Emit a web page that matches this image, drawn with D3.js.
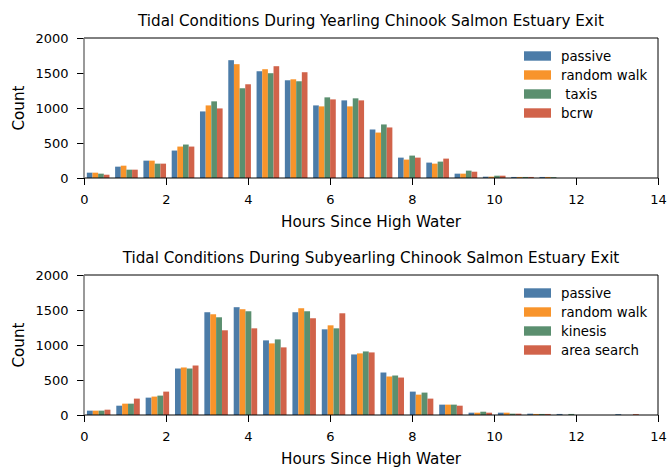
<!DOCTYPE html>
<html>
<head>
<meta charset="utf-8">
<script src="https://cdn.jsdelivr.net/npm/d3@7"></script>
<style>
  body { margin: 0; background: #fff; }
  svg text { font-family: "DejaVu Sans", sans-serif; fill: #000; }
</style>
</head>
<body>
<div id="chart"></div>
<script>
// histogram bin widths (hours), bins start at 0
const binWidthYearling = 0.69;
const binWidthSub = 0.716;

const yearlingLabels = ["passive", "random walk", " taxis", "bcrw"];
const subLabels = ["passive", "random walk", "kinesis", "area search"];

const colors = ["#4c7ca8", "#f8942b", "#5b8f6f", "#d1634a"];

// counts per bin, yearling
const yearlingPassive = [76, 162, 248, 392, 951, 1683, 1525, 1396, 1037, 1109, 693, 291, 220, 62, 19, 15, 15, 0, 0, 0];
const yearlingRandom  = [76, 176, 248, 449, 1037, 1626, 1554, 1410, 1023, 1023, 649, 263, 205, 62, 19, 15, 15, 0, 0, 0];
const yearlingTaxis   = [62, 119, 205, 478, 1095, 1282, 1497, 1382, 1152, 1138, 765, 320, 234, 105, 33, 15, 12, 0, 0, 0];
const yearlingBcrw    = [47, 119, 205, 449, 994, 1339, 1597, 1511, 1123, 1109, 722, 291, 277, 90, 33, 15, 0, 0, 0, 0];

// counts per bin, subyearling
const subPassive = [62, 133, 248, 664, 1468, 1540, 1066, 1468, 1224, 865, 607, 334, 148, 33, 33, 19, 15, 0, 12, 0];
const subRandom  = [62, 162, 263, 679, 1439, 1511, 1023, 1525, 1281, 880, 550, 291, 148, 33, 33, 15, 0, 0, 0, 0];
const subKinesis = [62, 162, 277, 664, 1396, 1482, 1080, 1482, 1238, 908, 564, 320, 148, 47, 19, 15, 15, 0, 0, 0];
const subArea    = [76, 234, 334, 707, 1210, 1238, 966, 1382, 1453, 894, 535, 234, 133, 33, 19, 15, 0, 0, 12, 0];

const xTicks = [0, 2, 4, 6, 8, 10, 12, 14];
const yTicks = [0, 500, 1000, 1500, 2000];

const width = 668, height = 468;

const svg = d3.select("#chart").append("svg")
    .attr("width", width)
    .attr("height", height);

function drawPanel(top, title, labels, series, binWidth, id) {
    const left = 84, right = 658, bottom = top + 140;

    const x = d3.scaleLinear().domain([0, 14]).range([left, right]);
    const y = d3.scaleLinear().domain([0, 2000]).range([bottom, top]);

    const g = svg.append("g");

    g.append("clipPath").attr("id", id)
        .append("rect")
        .attr("x", left).attr("y", top)
        .attr("width", right - left).attr("height", bottom - top);

    const bars = g.append("g").attr("clip-path", `url(#${id})`);
    const n = series.length;
    const barW = 0.8 * binWidth / n;

    series.forEach((vals, j) => {
        bars.append("g")
            .selectAll("rect")
            .data(vals)
            .join("rect")
            .attr("x", (d, i) => x(i * binWidth + 0.1 * binWidth + j * barW))
            .attr("width", x(barW) - x(0))
            .attr("y", d => y(d))
            .attr("height", d => y(0) - y(d))
            .attr("fill", colors[j]);
    });

    // x axis
    const xAxis = g.append("g")
        .attr("transform", `translate(0,${bottom})`)
        .call(d3.axisBottom(x).tickValues(xTicks).tickSize(7).tickPadding(10).tickFormat(d3.format("d")));
    xAxis.select(".domain").remove();
    xAxis.selectAll("text").attr("font-size", 13);

    // y axis
    const yAxis = g.append("g")
        .attr("transform", `translate(${left},0)`)
        .call(d3.axisLeft(y).tickValues(yTicks).tickSize(7).tickPadding(8.5).tickFormat(d3.format("d")));
    yAxis.select(".domain").remove();
    yAxis.selectAll("text").attr("font-size", 13);

    // spines
    g.append("line").attr("x1", left).attr("x2", right).attr("y1", top).attr("y2", top)
        .attr("stroke", "#000").attr("stroke-width", 1);
    g.append("line").attr("x1", right).attr("x2", right).attr("y1", top).attr("y2", bottom)
        .attr("stroke", "#000").attr("stroke-width", 1);
    g.append("line").attr("x1", left).attr("x2", right).attr("y1", bottom).attr("y2", bottom)
        .attr("stroke", "#000").attr("stroke-width", 1);
    g.append("line").attr("x1", left).attr("x2", left).attr("y1", top).attr("y2", bottom)
        .attr("stroke", "#777").attr("stroke-width", 1.5);

    // title and labels
    g.append("text")
        .attr("x", (left + right) / 2).attr("y", top - 12.5)
        .attr("text-anchor", "middle")
        .attr("font-size", 15.2)
        .text(title);

    g.append("text")
        .attr("x", (left + right) / 2).attr("y", bottom + 49)
        .attr("text-anchor", "middle")
        .attr("font-size", 15.2)
        .text("Hours Since High Water");

    g.append("text")
        .attr("transform", `translate(23.5,${(top + bottom) / 2}) rotate(-90)`)
        .attr("text-anchor", "middle")
        .attr("font-size", 15.2)
        .text("Count");

    // legend
    const legend = g.append("g");
    labels.forEach((lab, j) => {
        const ly = top + 18 + j * 19;
        legend.append("rect")
            .attr("x", 524).attr("y", ly - 4.7)
            .attr("width", 27).attr("height", 9.4)
            .attr("fill", colors[j]);
        legend.append("text")
            .attr("x", 561).attr("y", ly)
            .attr("dy", "0.35em")
            .attr("font-size", 13.3)
            .attr("xml:space", "preserve")
            .style("white-space", "pre")
            .text(lab);
    });
}

drawPanel(38, "Tidal Conditions During Yearling Chinook Salmon Estuary Exit", yearlingLabels,
    [yearlingPassive, yearlingRandom, yearlingTaxis, yearlingBcrw], binWidthYearling, "clipTop");

drawPanel(275, "Tidal Conditions During Subyearling Chinook Salmon Estuary Exit", subLabels,
    [subPassive, subRandom, subKinesis, subArea], binWidthSub, "clipBottom");
</script>
</body>
</html>
